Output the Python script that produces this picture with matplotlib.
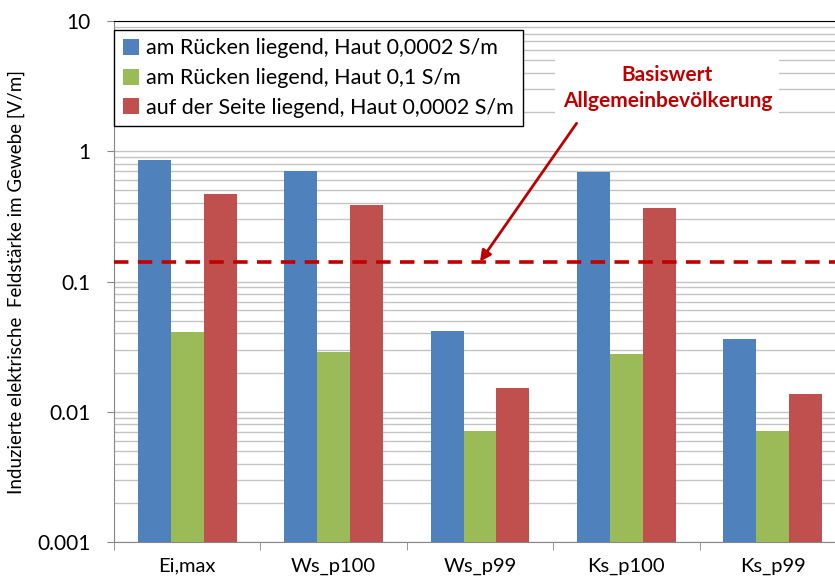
import numpy as np
import matplotlib
matplotlib.use('Agg')
import matplotlib.pyplot as plt

plt.rcParams['font.family'] = ['Lato', 'DejaVu Sans']

categories = ['Ei,max', 'Ws_p100', 'Ws_p99', 'Ks_p100', 'Ks_p99']
series_names = ['am Rücken liegend, Haut 0,0002 S/m',
                'am Rücken liegend, Haut 0,1 S/m',
                'auf der Seite liegend, Haut 0,0002 S/m']
blue_vals = [0.85, 0.70, 0.042, 0.69, 0.036]
green_vals = [0.041, 0.0286, 0.0071, 0.0278, 0.0071]
red_vals = [0.467, 0.384, 0.0152, 0.369, 0.0138]
basiswert = 0.142

colors = ['#4F81BD', '#9BBB59', '#C0504D']
dark_red = '#C00000'

fig = plt.figure(figsize=(8.35, 5.81), dpi=100)
W, H = 835, 581
left, right, top, bottom = 114, 846, 21, 542
ax = fig.add_axes([left / W, 1 - bottom / H, (right - left) / W, (bottom - top) / H])

ax.set_yscale('log')
x = np.arange(len(categories))
width = 0.225
for i, vals in enumerate([blue_vals, green_vals, red_vals]):
    ax.bar(x + (i - 1) * width, vals, width, color=colors[i],
           label=series_names[i], zorder=3)

ax.set_ylim(0.001, 10)
ax.set_xlim(-0.5, len(categories) - 0.5)

ax.grid(True, which='both', axis='y', color='#C3C3C3', linewidth=1.0, zorder=0)
ax.set_yticks([0.001, 0.01, 0.1, 1, 10])
ax.set_yticklabels(['0.001', '0.01', '0.1', '1', '10'], fontsize=15)
ax.tick_params(axis='y', which='minor', length=0)
ax.tick_params(axis='y', which='major', length=5, color='#868686', pad=12)

ax.set_xticks(x)
ax.set_xticklabels(categories, fontsize=14.5)
ax.set_xticks(np.arange(len(categories) + 1) - 0.5, minor=True)
ax.tick_params(axis='x', which='major', length=0, pad=11)
ax.tick_params(axis='x', which='minor', length=6, color='#868686')

for s in ['left', 'bottom']:
    ax.spines[s].set_color('#868686')
ax.spines['top'].set_color('black')
ax.spines['right'].set_visible(False)

ax.axhline(basiswert, color=dark_red, linestyle=(0, (4, 2.6)), linewidth=2.6, zorder=4)

ax.set_ylabel('Induzierte elektrische  Feldstärke im Gewebe [V/m]', fontsize=13.5, labelpad=9)

leg = ax.legend(loc='upper left', bbox_to_anchor=(0.0, 0.983), fontsize=15.5,
                frameon=True, fancybox=False, edgecolor='black', framealpha=1,
                handlelength=0.75, handleheight=0.75, handletextpad=0.35,
                borderpad=0.4, labelspacing=0.45, borderaxespad=0)
leg.get_frame().set_linewidth(1.0)
leg.set_zorder(6)

ax.text(3.28, 3.05, 'Basiswert\nAllgemeinbevölkerung', ha='center', va='center',
        fontsize=15, fontweight='bold', color=dark_red, linespacing=1.35,
        bbox=dict(boxstyle='square,pad=0.35', fc='white', ec='none'), zorder=6)
ax.annotate('', xy=(2.0, basiswert), xytext=(2.66, 1.64),
            arrowprops=dict(arrowstyle='-|>', color=dark_red, lw=2, shrinkA=0, shrinkB=0,
                            mutation_scale=16),
            zorder=6)

fig.savefig('out.png', dpi=100)
